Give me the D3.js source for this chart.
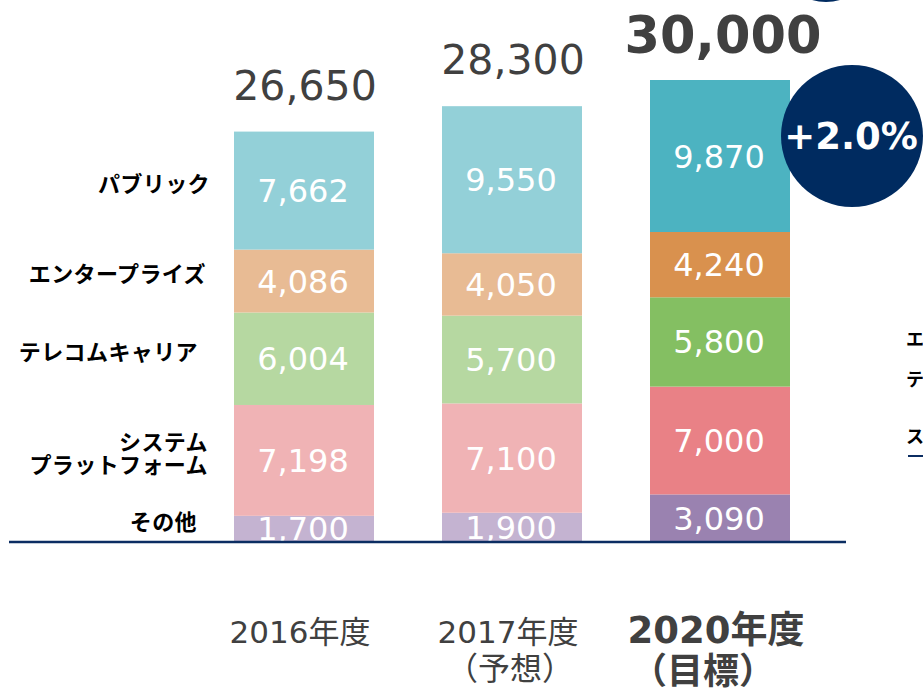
<!DOCTYPE html>
<html lang="ja">
<head>
<meta charset="UTF-8">
<title>売上構成</title>
<style>
  body { margin: 0; background: #fff; }
  svg { display: block; }
  .num { font-family: "DejaVu Sans", Verdana, sans-serif; }
  .jp { font-family: "DejaVu Sans", "Noto Sans CJK JP", sans-serif; }
</style>
</head>
<body>
<div id="chart"></div>
<script src="https://d3js.org/d3.v7.min.js"></script>
<script>
const years = ["2016年度", "2017年度", "2020年度"];
const yearNotes = ["", "（予想）", "（目標）"];
const segments = ["その他", "システム\nプラットフォーム", "テレコムキャリア", "エンタープライズ", "パブリック"];
const other = [1700, 1900, 3090];
const system = [7198, 7100, 7000];
const telecom = [6004, 5700, 5800];
const enterprise = [4086, 4050, 4240];
const publicCloud = [7662, 9550, 9870];
const totals = [26650, 28300, 30000];
const growth = "+2.0%";

const lightColors = ["#c4b3d1", "#f0b3b5", "#b6d8a1", "#e8bb94", "#93d0d8"];
const darkColors = ["#9a82b0", "#e98186", "#84bf62", "#d9914e", "#4cb3c1"];

const seriesValues = [other, system, telecom, enterprise, publicCloud];
const rows = years.map((y, i) => {
  const r = {year: y};
  segments.forEach((s, k) => r[s] = seriesValues[k][i]);
  return r;
});

const W = 923, H = 692, baseY = 542;

const svg = d3.select("#chart").append("svg")
  .attr("width", W).attr("height", H);

const x = d3.scaleBand()
  .domain(years)
  .range([200, 824])
  .paddingInner(68 / 208)
  .paddingOuter(34 / 208);

const y = d3.scaleLinear()
  .domain([0, 30000])
  .range([baseY, 80]);

const stacked = d3.stack().keys(segments)(rows);

svg.append("defs").append("clipPath").attr("id", "plotClip")
  .append("rect").attr("x", 0).attr("y", 0).attr("width", W).attr("height", baseY - 1);

const plot = svg.append("g").attr("clip-path", "url(#plotClip)");

const layers = plot.selectAll("g.layer")
  .data(stacked)
  .join("g")
  .attr("class", "layer");

layers.selectAll("rect")
  .data((d, k) => d.map((p, i) => ({p, k, i})))
  .join("rect")
  .attr("x", d => x(years[d.i]))
  .attr("width", x.bandwidth())
  .attr("y", d => y(d.p[1]))
  .attr("height", d => y(d.p[0]) - y(d.p[1]))
  .attr("fill", d => d.i === 2 ? darkColors[d.k] : lightColors[d.k]);

layers.selectAll("text")
  .data((d, k) => d.map((p, i) => ({p, k, i})))
  .join("text")
  .attr("class", "num")
  .attr("x", d => x(years[d.i]) + x.bandwidth() / 2 - 1)
  .attr("y", d => (y(d.p[0]) + y(d.p[1])) / 2)
  .attr("dy", "0.36em")
  .attr("text-anchor", "middle")
  .attr("fill", "#fff")
  .style("font-size", "32px")
  .text(d => d3.format(",")(d.p[1] - d.p[0]));

// baseline
svg.append("line")
  .attr("x1", 9).attr("x2", 846)
  .attr("y1", baseY).attr("y2", baseY)
  .attr("stroke", "#0b2d62").attr("stroke-width", 2.5);

// totals
svg.selectAll("text.total")
  .data(totals)
  .join("text")
  .attr("class", "total num")
  .attr("x", (d, i) => x(years[i]) + x.bandwidth() / 2 + (i === 2 ? 3 : 1))
  .attr("y", (d, i) => y(d) - (i === 2 ? 27 : 32))
  .attr("text-anchor", "middle")
  .attr("fill", "#404040")
  .style("font-size", (d, i) => i === 2 ? "51px" : "41px")
  .style("font-weight", (d, i) => i === 2 ? "bold" : "normal")
  .text(d => d3.format(",")(d));

// category labels at left, next to 2016 segments
const first = stacked.map(s => s[0]);
const labelRight = [197, 208, 198, 206, 210];
segments.forEach((s, k) => {
  const lines = s.split("\n");
  const cy = (y(first[k][0]) + y(first[k][1])) / 2 - 7;
  const t = svg.append("text")
    .attr("text-anchor", "end")
    .attr("fill", "#000")
    .style("font-family", "'Noto Sans CJK JP', sans-serif")
    .style("font-weight", "bold")
    .style("font-size", "22px")
    .style("letter-spacing", "0.4px");
  lines.forEach((ln, j) => {
    t.append("tspan")
      .attr("x", labelRight[k])
      .attr("y", cy + (j - (lines.length - 1) / 2) * 23)
      .attr("dy", "0.36em")
      .text(ln);
  });
});

// year labels
years.forEach((yr, i) => {
  const cx = x(yr) + x.bandwidth() / 2;
  const bold = i === 2;
  svg.append("text")
    .attr("class", "jp")
    .attr("x", cx - 4)
    .attr("y", 643)
    .attr("text-anchor", "middle")
    .attr("fill", "#404040")
    .style("font-size", bold ? "37px" : "31px")
    .style("font-weight", bold ? "bold" : "normal")
    .text(yr);
  if (yearNotes[i]) {
    svg.append("text")
      .attr("x", cx - (bold ? 17 : 2))
      .attr("y", bold ? 684 : 680)
      .attr("text-anchor", "middle")
      .attr("fill", "#404040")
      .style("font-family", "'Noto Sans CJK JP', sans-serif")
      .style("font-size", bold ? "36px" : "32px")
      .style("font-weight", bold ? "bold" : "normal")
      .text(yearNotes[i]);
  }
});

// growth badge
svg.append("circle")
  .attr("cx", 852).attr("cy", 136).attr("r", 71)
  .attr("fill", "#002b60");
svg.append("text")
  .attr("class", "num")
  .attr("x", 851).attr("y", 136)
  .attr("dy", "0.36em")
  .attr("text-anchor", "middle")
  .attr("fill", "#fff")
  .style("font-size", "37px")
  .style("font-weight", "bold")
  .text(growth);

// partially visible shapes at the slide edge
svg.append("circle")
  .attr("cx", 826).attr("cy", -48).attr("r", 50)
  .attr("fill", "#002b60");

const edgeLabels = ["エンタープライズ", "テレコムキャリア", "ストレージ"];
const edgeY = [340, 380, 437];
edgeLabels.forEach((t, i) => {
  svg.append("text")
    .attr("x", 906).attr("y", edgeY[i])
    .attr("dy", "0.36em")
    .attr("fill", "#000")
    .style("font-family", "'Noto Sans CJK JP', sans-serif")
    .style("font-weight", "bold")
    .style("font-size", "18px")
    .text(t);
});
svg.append("line")
  .attr("x1", 908).attr("x2", 923)
  .attr("y1", 456).attr("y2", 456)
  .attr("stroke", "#0b2d62").attr("stroke-width", 2);
</script>
</body>
</html>
